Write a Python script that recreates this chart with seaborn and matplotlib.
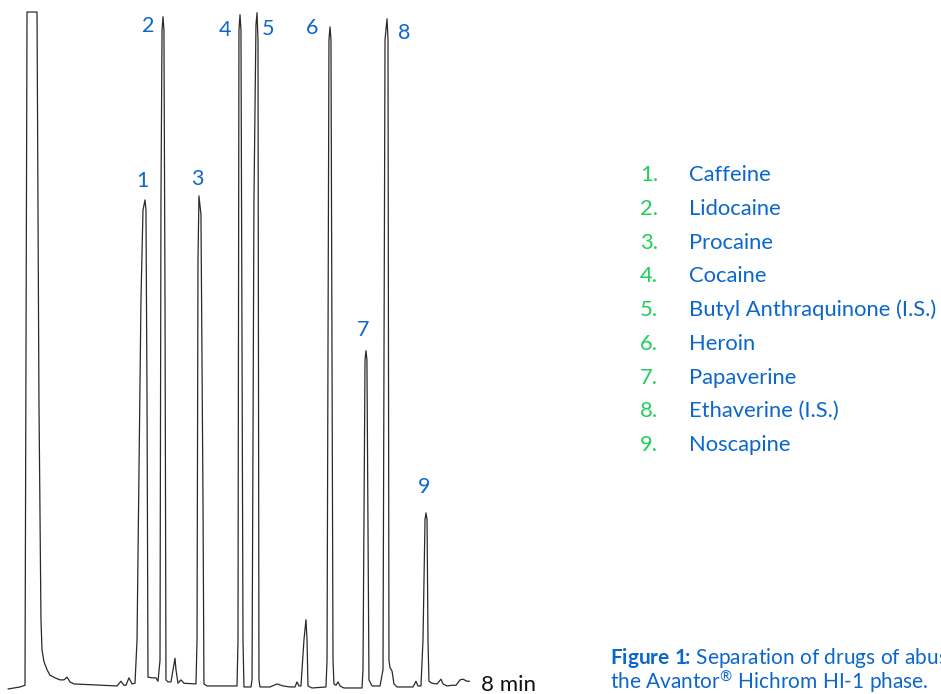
import numpy as np
import pandas as pd
import seaborn as sns
import matplotlib.pyplot as plt

# chromatogram trace: time in seconds, response in % of full scale
trace_time = [
    0, 12.5, 17.7, 19.8, 30.2, 32.2, 34.3, 35.4, 37.4, 40.6,
    43.7, 48.9, 54.1, 58.2, 61.4, 64.5, 68.6, 113.4, 117.5, 120.6,
    122.7, 125.8, 129.0, 132.1, 134.2, 138.3, 140.4, 142.5, 143.5, 144.6,
    145.6, 149.8, 153.9, 156.0, 158.1, 159.1, 160.2, 161.2, 162.2, 163.3,
    164.3, 166.4, 169.5, 171.6, 173.7, 174.7, 176.8, 179.9, 183.0, 195.5,
    196.6, 197.6, 198.6, 200.7, 202.8, 203.8, 207.0, 238.2, 239.2, 240.2,
    241.3, 242.3, 244.4, 245.4, 252.7, 253.8, 255.8, 257.9, 259.0, 260.0,
    261.0, 262.1, 272.5, 279.8, 286.0, 293.3, 298.5, 300.6, 302.6, 304.7,
    307.8, 309.9, 311.0, 312.0, 316.2, 330.7, 331.8, 333.8, 334.9, 335.9,
    338.0, 339.0, 341.1, 343.2, 345.3, 349.4, 368.2, 369.2, 371.3, 372.3,
    373.3, 375.4, 378.6, 386.9, 390.0, 392.1, 394.2, 395.2, 396.2, 397.3,
    399.4, 401.4, 404.6, 421.2, 424.3, 426.4, 429.5, 431.6, 433.7, 434.7,
    435.8, 436.8, 437.8, 441.0, 446.2, 450.3, 452.4, 456.6, 461.8, 465.9,
    470.1, 473.2, 477.4, 480.0,
]
trace_signal = [
    -0.15, 0.15, 0.4, 100, 100, 42.6, 10.1, 5.6, 3.9, 2.7,
    1.9, 1.5, 1.2, 1.2, 1.6, 0.9, 0.6, 0.3, 1.0, 0.4,
    0.4, 1.5, 0.6, 0.7, 7.1, 57.4, 70.7, 72.2, 70.7, 42.6,
    1.6, 1.5, 1.5, 1.0, 4.1, 72.2, 97.3, 99.3, 97.3, 57.4,
    1.2, 0.9, 0.9, 2.7, 4.4, 2.7, 0.7, 1.2, 0.7, 0.6,
    7.1, 63.3, 72.8, 70.0, 27.8, 0.6, 0.3, 0.3, 7.1, 97.3,
    99.6, 97.3, 7.1, 0.15, 0.15, 1.2, 72.2, 98.1, 99.9, 95.9,
    1.2, 0.15, 0.15, 0.6, 0.3, 0.15, 0.15, 0.9, 0.3, 0.3,
    7.1, 10.1, 7.1, 0.3, 0.0, 0.15, 4.1, 95.9, 97.8, 95.9,
    4.1, 0.6, 0.4, 0.9, 0.3, 0.0, 0.0, 2.7, 48.5, 49.9,
    48.5, 1.2, 0.3, 0.3, 2.7, 95.9, 99.0, 95.9, 4.1, 3.0,
    2.5, 0.6, 0.15, 0.15, 1.0, 0.3, 0.3, 7.1, 24.9, 25.9,
    24.9, 7.1, 1.0, 0.7, 0.6, 1.3, 0.6, 0.3, 0.4, 0.4,
    1.2, 1.3, 1.0, 1.0,
]

peak_numbers = ["1", "2", "3", "4", "5", "6", "7", "8", "9"]
peak_time = [142.5, 161.2, 198.6, 241.3, 259.0, 334.9, 372.3, 394.2, 434.7]
peak_height = [72.2, 99.3, 72.8, 99.6, 99.9, 97.8, 49.9, 99.0, 25.9]
# label offset from the peak apex, in points
label_dx = [-2, -11, -1, -11, 8, -13, -2, 12, -1]
label_dy = [14, -7, 12, -11, -12, -1, 15, -10, 19]

compounds = ["Caffeine", "Lidocaine", "Procaine", "Cocaine", "Butyl Anthraquinone (I.S.)",
             "Heroin", "Papaverine", "Ethaverine (I.S.)", "Noscapine"]

CAPTION = ("$\\mathbf{Figure\\ 1}\\!\\!\\mathbf{:}\\!$ Separation of drugs of abuse on\n"
           "the Avantor$^{\\mathregular{\u00ae}}$ Hichrom HI-1 phase.")

BLUE = "#0b67cc"
GREEN = "#1fcf5a"


def main():
    sns.set_theme(style="white")
    plt.rcParams["font.family"] = ["Lato", "DejaVu Sans"]
    plt.rcParams["mathtext.fontset"] = "custom"
    plt.rcParams["mathtext.rm"] = "Lato"
    plt.rcParams["mathtext.it"] = "Lato"
    plt.rcParams["mathtext.bf"] = "Lato:bold"

    df = pd.DataFrame({"time": trace_time, "signal": trace_signal})

    fig = plt.figure(figsize=(9.41, 6.94), dpi=100)
    ax = fig.add_axes([0, 0, 1, 1])
    sns.lineplot(data=df, x="time", y="signal", sort=False, estimator=None,
                 color="#2a2a2a", linewidth=0.9, ax=ax)
    ax.set_xlim(-8.3, 970.3)
    ax.set_ylim(-0.89, 101.78)
    ax.set_axis_off()

    for num, t, h, dx, dy in zip(peak_numbers, peak_time, peak_height, label_dx, label_dy):
        ax.annotate(num, xy=(t, h), xytext=(dx, dy), textcoords="offset points",
                    ha="center", va="center", color=BLUE, fontsize=15.5)

    ax.annotate("8 min", xy=(trace_time[-1], trace_signal[-1]), xytext=(8, -3),
                textcoords="offset points", ha="left", va="center", color="#111111", fontsize=16)

    # compound list
    for i, name in enumerate(compounds):
        y = 1 - (175 + 33.75 * i) / 694
        fig.text(640 / 941, y, f"{i + 1}.", color=GREEN, fontsize=15.8, va="center", ha="left")
        fig.text(689 / 941, y, name, color=BLUE, fontsize=15.8, va="center", ha="left")

    # caption (runs off the right edge, as in the original figure)
    fig.text(610 / 941, 1 - 689 / 694, CAPTION, color=BLUE, fontsize=15,
             va="baseline", ha="left", linespacing=0.9)

    plt.savefig("out.png", dpi=100)


if __name__ == "__main__":
    main()
